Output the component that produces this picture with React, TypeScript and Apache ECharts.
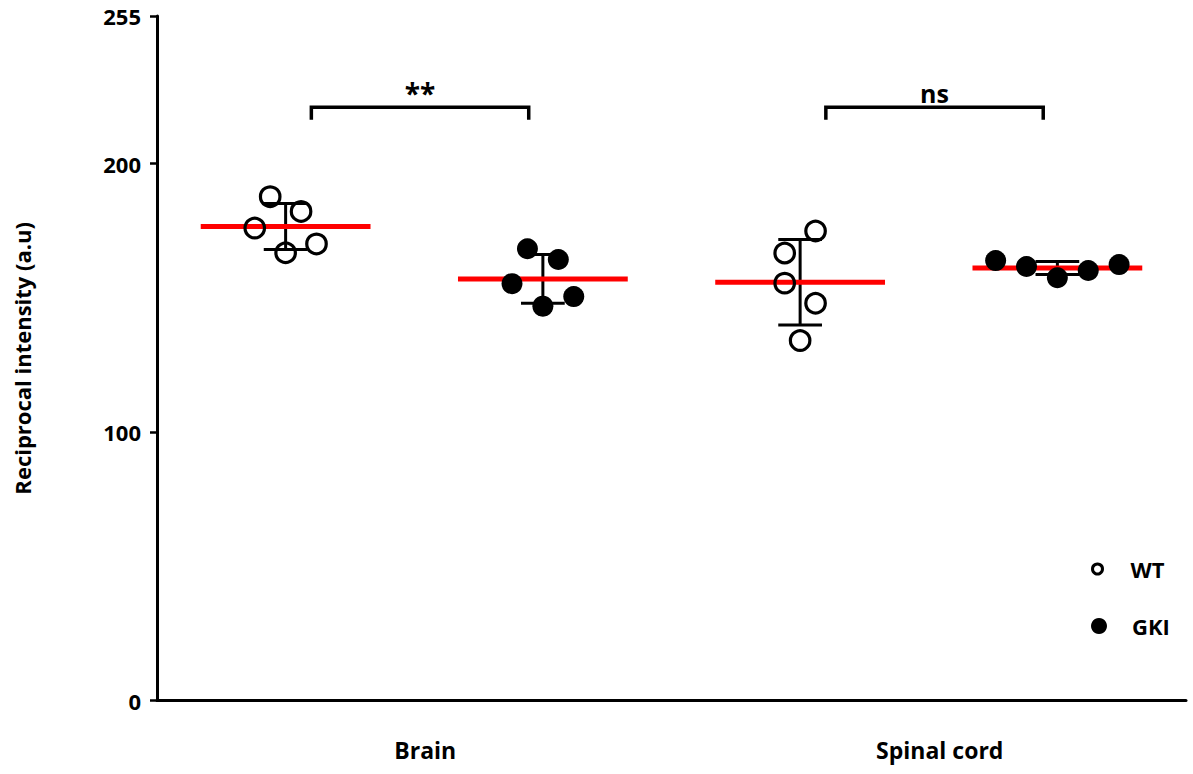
import React, { useEffect, useRef } from "react";
import * as echarts from "echarts";

// Regions shown on the x axis
const regions = ["Brain", "Spinal cord"];

// Reciprocal intensity (a.u) per animal
const wtBrain = [187.7, 182.2, 176.0, 170.1, 166.8];
const gkiBrain = [168.3, 164.3, 155.3, 150.5, 146.9];
const wtSpinal = [174.9, 166.7, 155.5, 148.0, 134.1];
const gkiSpinal = [163.9, 161.7, 157.5, 160.2, 162.4];

// Horizontal scatter of the dots inside each column (column units)
const jitterWtBrain = [-0.06, 0.06, -0.12, 0.12, 0];
const jitterGkiBrain = [-0.06, 0.06, -0.12, 0.12, 0];
const jitterWtSpinal = [0.06, -0.06, -0.06, 0.06, 0];
const jitterGkiSpinal = [-0.24, -0.12, 0, 0.12, 0.24];

// Y axis ticks
const yTicks = [0, 100, 200, 255];

// Pairwise comparisons: [columnA, columnB], result label, bracket level
const comparisonPairs = [
  [0, 1],
  [2, 3],
];
const comparisonLabels = ["**", "ns"];
const bracketLevel = 221;

const FONT = "'Open Sans', 'Noto Sans', sans-serif";

function mean(a: number[]) {
  return a.reduce((s, v) => s + v, 0) / a.length;
}
function sd(a: number[]) {
  const m = mean(a);
  return Math.sqrt(a.reduce((s, v) => s + (v - m) * (v - m), 0) / (a.length - 1));
}

export default function App() {
  const ref = useRef<HTMLDivElement>(null);

  useEffect(() => {
    if (!ref.current) return;
    const chart = echarts.init(ref.current, null, { renderer: "svg" });

    const wtGroups = [
      { col: 0, vals: wtBrain, jit: jitterWtBrain },
      { col: 2, vals: wtSpinal, jit: jitterWtSpinal },
    ];
    const gkiGroups = [
      { col: 1, vals: gkiBrain, jit: jitterGkiBrain },
      { col: 3, vals: gkiSpinal, jit: jitterGkiSpinal },
    ];
    const toPoints = (gs: { col: number; vals: number[]; jit: number[] }[]) =>
      gs.flatMap((g) => g.vals.map((v, i) => [g.col + g.jit[i], v]));

    const allGroups = [...wtGroups, ...gkiGroups].sort((a, b) => a.col - b.col);
    const stats = allGroups.map((g) => [g.col, mean(g.vals), sd(g.vals)]);

    const bracketData = comparisonPairs.map((p) => [p[0] + 0.1, p[1] - 0.055, bracketLevel]);

    const capHalf = 0.085;
    const meanHalf = 0.33;

    const legendText = { fontFamily: FONT, fontWeight: "bold", fontSize: 22, color: "#000" };

    chart.setOption({
      animation: false,
      backgroundColor: "#ffffff",
      grid: {
        left: 157,
        right: 7,
        top: 16,
        bottom: 73.4,
        outerBoundsMode: "none",
      },
      legend: [
        {
          left: 1086,
          top: 553,
          orient: "vertical",
          itemWidth: 56,
          itemHeight: 10,
          symbolKeepAspect: true,
          selectedMode: false,
          data: [
            {
              name: "WT",
              icon: "circle",
              itemStyle: { color: "rgba(0,0,0,0)", borderColor: "#000", borderWidth: 3 },
            },
          ],
          textStyle: legendText,
        },
        {
          left: 1086,
          top: 610,
          orient: "vertical",
          itemWidth: 56,
          itemHeight: 16,
          symbolKeepAspect: true,
          selectedMode: false,
          data: [{ name: "GKI", icon: "circle", itemStyle: { color: "#000", borderWidth: 0 } }],
          textStyle: legendText,
        },
      ],
      xAxis: [
        {
          type: "value",
          min: -0.5,
          max: 3.5,
          position: "bottom",
          axisLine: { show: true, onZero: false, lineStyle: { color: "#000", width: 3 } },
          axisTick: { show: false },
          axisLabel: { show: false },
          splitLine: { show: false },
        },
        {
          type: "category",
          data: regions,
          position: "bottom",
          boundaryGap: true,
          axisLine: { show: false },
          axisTick: { show: false },
          splitLine: { show: false },
          axisLabel: {
            margin: 38,
            fontFamily: FONT,
            fontWeight: "bold",
            fontSize: 23,
            color: "#000",
            padding: [0, 0, 0, 22],
          },
        },
      ],
      yAxis: {
        type: "value",
        min: 0,
        max: 255,
        name: "Reciprocal intensity (a.u)",
        nameLocation: "middle",
        nameGap: 124,
        nameTextStyle: { fontFamily: FONT, fontWeight: "bold", fontSize: 22, color: "#000" },
        axisLine: { show: true, onZero: false, lineStyle: { color: "#000", width: 3 } },
        axisTick: {
          show: true,
          length: 7,
          lineStyle: { color: "#000", width: 2.5 },
          customValues: yTicks,
        },
        axisLabel: {
          margin: 16,
          fontFamily: FONT,
          fontWeight: "bold",
          fontSize: 22,
          color: "#000",
          customValues: yTicks,
        },
        splitLine: { show: false },
      },
      series: [
        // SD error bars
        {
          type: "custom",
          xAxisIndex: 0,
          yAxisIndex: 0,
          z: 2,
          silent: true,
          encode: { x: 0, y: 1 },
          data: stats,
          renderItem: (params: any, api: any) => {
            const x = api.value(0);
            const m = api.value(1);
            const s = api.value(2);
            const top = api.coord([x, m + s]);
            const bot = api.coord([x, m - s]);
            const l = api.coord([x - capHalf, m])[0];
            const r = api.coord([x + capHalf, m])[0];
            const st = { stroke: "#000", lineWidth: 3, fill: null };
            return {
              type: "group",
              children: [
                { type: "line", shape: { x1: top[0], y1: top[1], x2: bot[0], y2: bot[1] }, style: st },
                { type: "line", shape: { x1: l, y1: top[1], x2: r, y2: top[1] }, style: st },
                { type: "line", shape: { x1: l, y1: bot[1], x2: r, y2: bot[1] }, style: st },
              ],
            };
          },
        },
        // Group means
        {
          type: "custom",
          xAxisIndex: 0,
          yAxisIndex: 0,
          z: 3,
          silent: true,
          encode: { x: 0, y: 1 },
          data: stats,
          renderItem: (params: any, api: any) => {
            const x = api.value(0);
            const m = api.value(1);
            const a = api.coord([x - meanHalf, m]);
            const b = api.coord([x + meanHalf, m]);
            return {
              type: "line",
              shape: { x1: a[0], y1: a[1], x2: b[0], y2: b[1] },
              style: { stroke: "#ff0000", lineWidth: 5 },
            };
          },
        },
        {
          name: "WT",
          type: "scatter",
          xAxisIndex: 0,
          yAxisIndex: 0,
          z: 4,
          symbol: "circle",
          symbolSize: 19.5,
          itemStyle: { color: "rgba(0,0,0,0)", borderColor: "#000", borderWidth: 3.2, opacity: 1 },
          data: toPoints(wtGroups),
        },
        {
          name: "GKI",
          type: "scatter",
          xAxisIndex: 0,
          yAxisIndex: 0,
          z: 4,
          symbol: "circle",
          symbolSize: 21,
          itemStyle: { color: "#000", opacity: 1 },
          data: toPoints(gkiGroups),
        },
        // Significance brackets
        {
          type: "custom",
          xAxisIndex: 0,
          yAxisIndex: 0,
          z: 5,
          silent: true,
          encode: { x: [0, 1], y: 2 },
          data: bracketData,
          renderItem: (params: any, api: any) => {
            const x1 = api.value(0);
            const x2 = api.value(1);
            const lv = api.value(2);
            const a = api.coord([x1, lv]);
            const b = api.coord([x2, lv]);
            const legY = api.coord([x1, lv - 4.6])[1];
            const txtY = api.coord([x1, lv + 5.5])[1];
            const st = { stroke: "#000", lineWidth: 3.5, fill: null, lineJoin: "miter" };
            return {
              type: "group",
              children: [
                {
                  type: "polyline",
                  shape: { points: [[a[0], legY], [a[0], a[1]], [b[0], b[1]], [b[0], legY]] },
                  style: st,
                },
                {
                  type: "text",
                  style: {
                    text: comparisonLabels[params.dataIndex],
                    x: (a[0] + b[0]) / 2,
                    y: txtY,
                    align: "center",
                    verticalAlign: "middle",
                    fontFamily: FONT,
                    fontWeight: "bold",
                    fontSize: params.dataIndex === 0 ? 28 : 25,
                    fill: "#000",
                  },
                },
              ],
            };
          },
        },
      ],
    });

    return () => chart.dispose();
  }, []);

  return (
    <div
      ref={ref}
      style={{ position: "absolute", left: 0, top: 0, width: 1193, height: 774 }}
    />
  );
}
